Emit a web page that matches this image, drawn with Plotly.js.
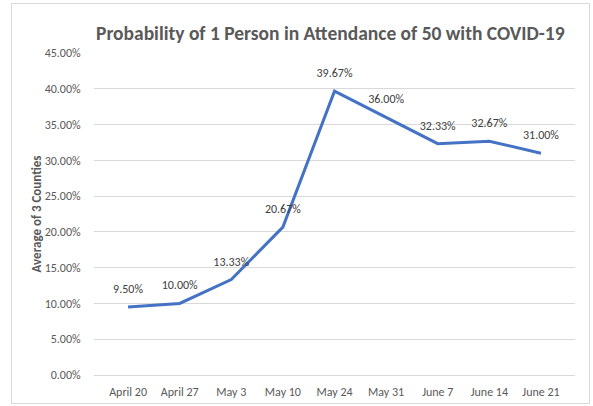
<!DOCTYPE html>
<html>
<head>
<meta charset="utf-8">
<script src="https://cdn.plot.ly/plotly-3.0.1.min.js"></script>
<style>
  html, body { margin: 0; padding: 0; background: #ffffff; }
  #chart { width: 593px; height: 406px; position: absolute; left: 0; top: 0; }
  #frame { position: absolute; left: 11px; top: 3px; width: 577px; height: 399px;
           border: 1px solid #d9d9d9; pointer-events: none; }
</style>
</head>
<body>
<div id="chart"></div>
<div id="frame"></div>
<script>
const categories = ["April 20", "April 27", "May 3", "May 10", "May 24", "May 31", "June 7", "June 14", "June 21"];
const averageOf3Counties = [0.0950, 0.1000, 0.1333, 0.2067, 0.3967, 0.3600, 0.3233, 0.3267, 0.3100];
const yTickValues = [0, 0.05, 0.10, 0.15, 0.20, 0.25, 0.30, 0.35, 0.40, 0.45];

const FONT = "Carlito, Calibri, 'Open Sans', sans-serif";

const trace = {
  type: 'scatter',
  mode: 'lines+markers+text',
  x: categories,
  y: averageOf3Counties,
  text: averageOf3Counties.map(v => (v * 100).toFixed(2) + '%'),
  textposition: 'top center',
  textfont: { family: FONT, size: 12, color: '#404040' },
  line: { color: '#4472C4', width: 3, shape: 'linear' },
  marker: { size: 16, color: 'rgba(0,0,0,0)', line: { width: 0 } },
  cliponaxis: false,
  hoverinfo: 'x+y'
};

const layout = {
  width: 593,
  height: 406,
  margin: { l: 94, r: 18, t: 53, b: 31 },
  paper_bgcolor: '#ffffff',
  plot_bgcolor: '#ffffff',
  showlegend: false,
  font: { family: FONT, size: 12, color: '#595959' },
  title: {
    text: '<b>Probability of 1 Person in Attendance of 50 with COVID-19</b>',
    font: { family: FONT, size: 19.5, color: '#595959' },
    x: 0.557, xanchor: 'center',
    y: 0.918, yanchor: 'middle'
  },
  xaxis: {
    type: 'category',
    showgrid: false,
    showline: false,
    zeroline: false,
    ticks: 'outside', ticklen: 6, tickcolor: 'rgba(0,0,0,0)',
    tickfont: { family: FONT, size: 12, color: '#595959' },
    fixedrange: true
  },
  yaxis: {
    range: [0, 0.45],
    tickvals: yTickValues,
    tickformat: '.2%',
    showgrid: true,
    gridcolor: '#d9d9d9',
    gridwidth: 1,
    zeroline: true,
    zerolinecolor: '#d9d9d9',
    zerolinewidth: 1,
    showline: false,
    ticks: 'outside', ticklen: 10, tickcolor: 'rgba(0,0,0,0)',
    tickfont: { family: FONT, size: 12, color: '#595959' },
    title: {
      text: '<b>Average of 3 Counties</b>',
      font: { family: FONT, size: 13, color: '#595959' },
      standoff: 0
    },
    automargin: false,
    fixedrange: true
  }
};

Plotly.newPlot('chart', [trace], layout, { displayModeBar: false, staticPlot: true });
</script>
</body>
</html>
